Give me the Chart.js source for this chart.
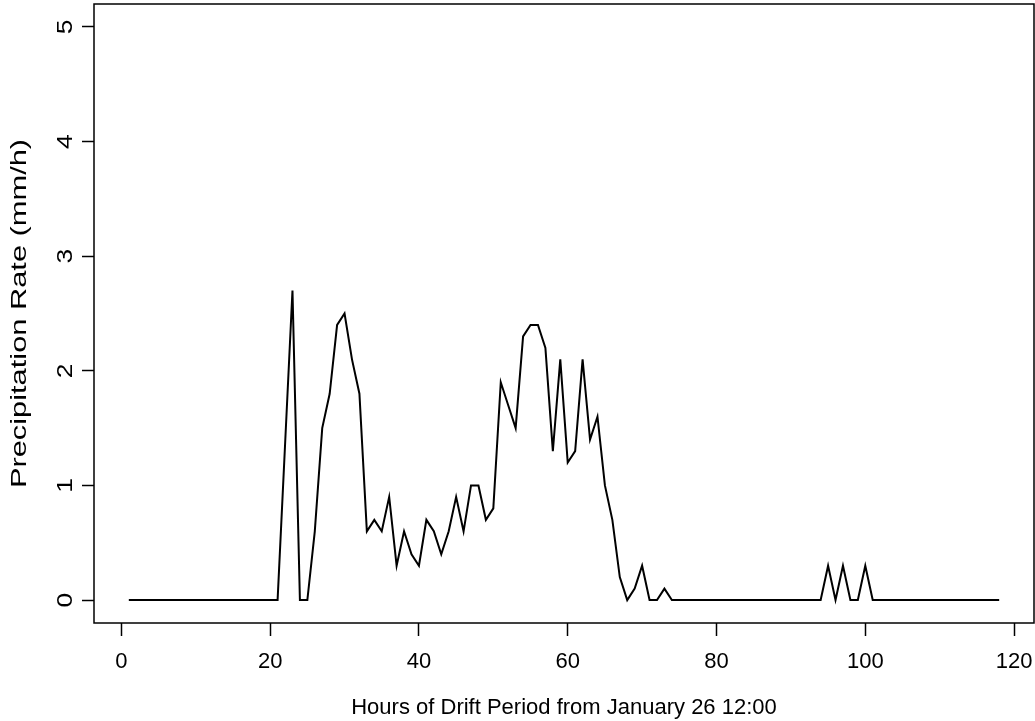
<!DOCTYPE html>
<html>
<head>
<meta charset="utf-8">
<script src="https://cdn.jsdelivr.net/npm/chart.js@4.4.0/dist/chart.umd.min.js"></script>
<style>
  html, body { margin:0; padding:0; background:#fff; }
  #wrap { width:1035px; height:721px; position:relative; }
</style>
</head>
<body>
<div id="wrap"><canvas id="chart" width="1035" height="721"></canvas></div>
<script>
// hours since Jan 26 12:00 and precipitation (mm/h)
const hours = Array.from({length: 118}, (_, i) => i + 1);
const rate = [
  0,0,0,0,0,0,0,0,0,0,            // 1-10
  0,0,0,0,0,0,0,0,0,0,            // 11-20
  0,1.35,2.7,0,0,0.6,1.5,1.8,2.4,2.5,   // 21-30
  2.1,1.8,0.6,0.7,0.6,0.9,0.3,0.6,0.4,0.3, // 31-40
  0.7,0.6,0.4,0.6,0.9,0.6,1.0,1.0,0.7,0.8, // 41-50
  1.9,1.7,1.5,2.3,2.4,2.4,2.2,1.3,2.1,1.2, // 51-60
  1.3,2.1,1.4,1.6,1.0,0.7,0.2,0,0.1,0.3,   // 61-70
  0,0,0.1,0,0,0,0,0,0,0,            // 71-80
  0,0,0,0,0,0,0,0,0,0,            // 81-90
  0,0,0,0,0.3,0,0.3,0,0,0.3,      // 91-100
  0,0,0,0,0,0,0,0,0,0,            // 101-110
  0,0,0,0,0,0,0,0                 // 111-118
];
const xTicks = [0, 20, 40, 60, 80, 100, 120];
const yTicks = [0, 1, 2, 3, 4, 5];
const yTitle = 'Precipitation Rate (mm/h)';

const FONT = "'Liberation Sans', Arial, sans-serif";

// box around plot + rotated y labels and title, like R base graphics
const boxPlugin = {
  id: 'box',
  afterDraw(chart){
    const {ctx, chartArea: a, scales} = chart;
    ctx.save();
    ctx.strokeStyle = '#000';
    ctx.lineWidth = 1.5;
    ctx.strokeRect(a.left, a.top, a.right - a.left, a.bottom - a.top);
    ctx.fillStyle = '#000';
    ctx.font = '22px ' + FONT;
    ctx.textAlign = 'center';
    ctx.textBaseline = 'middle';
    yTicks.forEach(v => {
      const y = scales.y.getPixelForValue(v);
      ctx.save();
      ctx.translate(a.left - 28, y);
      ctx.rotate(-Math.PI/2);
      ctx.scale(1.2, 1);
      ctx.fillText(String(v), 0, 0);
      ctx.restore();
    });
    // axis title, stretched along its length as in the source image
    ctx.save();
    ctx.translate(20, (a.top + a.bottom) / 2);
    ctx.rotate(-Math.PI/2);
    ctx.scale(1.4, 1);
    ctx.fillText(yTitle, 0, 0);
    ctx.restore();
    ctx.restore();
  }
};

new Chart(document.getElementById('chart'), {
  type: 'line',
  data: {
    datasets: [{
      data: hours.map((h, i) => ({x: h, y: rate[i]})),
      borderColor: '#000',
      borderWidth: 2,
      pointRadius: 0,
      tension: 0,
      fill: false
    }]
  },
  options: {
    responsive: false,
    animation: false,
    layout: { padding: { top: 4, right: 1, left: 0, bottom: 0 } },
    plugins: { legend: { display: false }, tooltip: { enabled: false } },
    scales: {
      x: {
        type: 'linear',
        min: -3.68, max: 122.68,
        afterBuildTicks: s => { s.ticks = xTicks.map(v => ({value: v})); },
        afterFit: s => { s.height = 98; s.paddingLeft = 0; s.paddingRight = 0; },
        grid: { drawOnChartArea: false, drawTicks: true, tickLength: 13, tickColor: '#000', tickWidth: 1.5 },
        border: { display: false },
        ticks: { color: '#000', font: { family: FONT, size: 22 }, padding: 13, maxRotation: 0 },
        title: { display: true, text: 'Hours of Drift Period from January 26 12:00', color: '#000',
                 font: { family: FONT, size: 22 }, padding: { top: 0, bottom: 0 } }
      },
      y: {
        min: -0.2, max: 5.2,
        afterBuildTicks: s => { s.ticks = yTicks.map(v => ({value: v})); },
        afterFit: s => { s.width = 94; s.paddingTop = 0; s.paddingBottom = 0; },
        grid: { drawOnChartArea: false, drawTicks: true, tickLength: 12, tickColor: '#000', tickWidth: 1.5 },
        border: { display: false },
        ticks: { display: true, color: 'rgba(0,0,0,0)', font: { family: FONT, size: 20 }, padding: 12 }
      }
    }
  },
  plugins: [boxPlugin]
});
</script>
</body>
</html>
